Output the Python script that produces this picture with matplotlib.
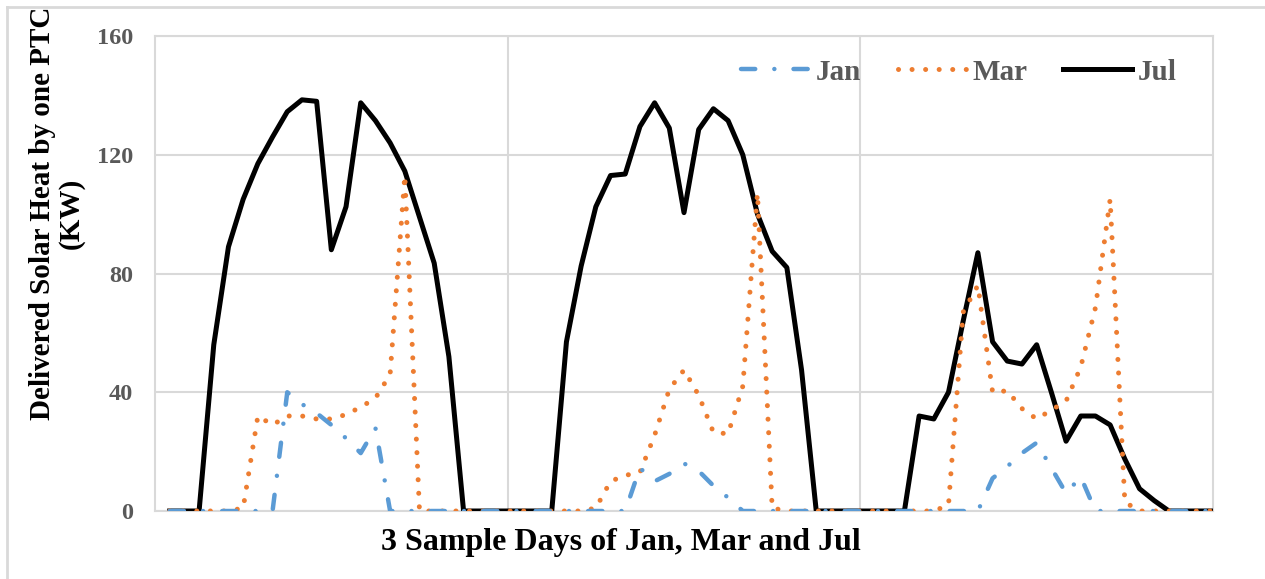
import matplotlib
matplotlib.use("Agg")
import matplotlib.pyplot as plt
from matplotlib.lines import Line2D

plt.rcParams['font.family'] = ['Liberation Serif', 'DejaVu Serif']
plt.rcParams['font.weight'] = 'bold'

# hour index over the 3 sample days (1..72)
hours = list(range(1, 73))

jan = [0, 0, 0, 0, 0, 0, 0, 0, 40, 36, 33, 29, 24.5, 19.5, 28, 0, 0, 0, 0, 0, 0, 0, 0, 0,
       0, 0, 0, 0, 0, 0, 0, 0, 14.5, 10, 12.5, 16, 13.5, 8.5, 4.5, 0, 0, 0, 0, 0, 0, 0, 0, 0,
       0, 0, 0, 0, 0, 0, 0, 0, 11, 15, 19.5, 23, 14.5, 6, 11.5, 0, 0, 0, 0, 0, 0, 0, 0, 0]

mar = [0, 0, 0, 0, 0, 1, 32, 29, 32, 32, 31, 31, 32.5, 35, 38, 46, 113, 0, 0, 0, 0, 0, 0, 0,
       0, 0, 0, 0, 0, 1, 10, 12, 13, 25.5, 41, 47.5, 39, 26.5, 26, 42, 107, 1, 0, 0, 0, 0, 0, 0,
       0, 0, 0, 0, 0, 2, 67, 76, 40, 40.5, 34.5, 31, 34, 37, 48.5, 68.5, 105, 3, 0, 0, 0, 0, 0, 0]

jul = [0, 0, 0, 56, 89, 105, 117, 126, 134.5, 138.5, 138, 88, 102.5, 137.5, 131.5, 124, 114.5, 99, 83.5, 52, 0, 0, 0, 0,
       0, 0, 0, 57, 82.5, 102.5, 113, 113.5, 129.5, 137.5, 129, 100.5, 128.5, 135.5, 131.5, 120, 100, 87.5, 82, 47.5, 0, 0, 0, 0,
       0, 0, 0, 32, 31, 40, 64, 87, 57, 50.5, 49.5, 56, 40, 23.5, 32, 32, 29, 17.5, 7.5, 3.5, 0, 0, 0, 0]

grid_c = '#D9D9D9'
text_c = '#595959'

fig = plt.figure(figsize=(12.65, 5.79), dpi=100)
ax = fig.add_axes([155 / 1265, 1 - 511 / 579, 1058 / 1265, 475 / 579])

ax.plot(hours, jul, color='black', lw=3.6, zorder=3, label='Jul')
ax.plot(hours, mar, color='#ED7D31', lw=3.6, linestyle=(0, (0.01, 2.7)),
        dash_capstyle='round', zorder=4, label='Mar')
ax.plot(hours, jan, color='#5B9BD5', lw=3.2, linestyle=(0, (3.2, 4.3, 0.01, 4.3)),
        dash_capstyle='round', zorder=5, label='Jan')

ax.set_xlim(0, 72)
ax.set_ylim(0, 160)
ax.set_xticks([24, 48])
ax.set_xticklabels([])
ax.set_yticks([0, 40, 80, 120, 160])
ax.grid(True, color=grid_c, lw=1.5, zorder=0)
ax.tick_params(axis='both', length=0)
ax.tick_params(axis='y', pad=16, labelsize=17.5, labelcolor=text_c)
for lbl in ax.get_yticklabels():
    lbl.set_fontweight('bold')
for sp in ax.spines.values():
    sp.set_color(grid_c)
    sp.set_linewidth(1.5)

handles, labels = ax.get_legend_handles_labels()
order = [2, 1, 0]
leg = ax.legend([handles[i] for i in order], [labels[i] for i in order],
                loc='center', bbox_to_anchor=(0.76, 0.924), ncol=3, frameon=False,
                fontsize=21, handlelength=2.35, handletextpad=0.2, columnspacing=1.25,
                borderpad=0)
for t in leg.get_texts():
    t.set_color(text_c)
    t.set_fontweight('bold')

fig.text(57 / 1265, 1 - 213 / 579, 'Delivered Solar Heat by one PTC\n(KW)',
         rotation=90, ha='center', va='center', fontsize=21, fontweight='bold',
         linespacing=1.1, color='black')
fig.text(621 / 1265, 1 - 550 / 579, '3 Sample Days of Jan, Mar and Jul',
         ha='center', va='baseline', fontsize=23, fontweight='bold', color='black')

# chart area border (left and top only, as in the screenshot)
fig.add_artist(Line2D([7 / 1265, 7 / 1265], [0, 1 - 7 / 579], color=grid_c, lw=2))
fig.add_artist(Line2D([7 / 1265, 1], [1 - 7 / 579, 1 - 7 / 579], color=grid_c, lw=2))

fig.savefig('out.png', dpi=100)
